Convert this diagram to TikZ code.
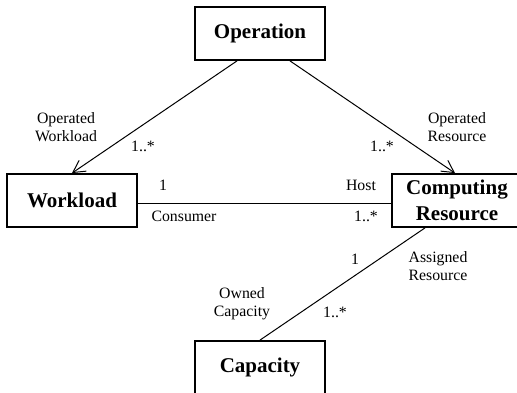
\documentclass[tikz,border=0pt]{standalone}
\usepackage{fontspec}
\setmainfont{Liberation Serif}
\usetikzlibrary{arrows.meta}

\begin{document}
\begin{tikzpicture}[x=1pt,y=-1pt]
      \useasboundingbox (0,0) rectangle (517,393);

      \begin{scope}[every node/.style={draw,line width=1.8pt,minimum width=130pt,minimum height=53pt,
          align=center,inner sep=0pt,font=\fontsize{21}{26}\selectfont\bfseries}]
        \node (op)  at (260,33.5)  {Operation};
        \node (wl)  at (72,200.5)  {Workload};
        \node (cr)  at (457,200.5) {Computing\\Resource};
        \node (cap) at (260,367.5) {Capacity};
      \end{scope}

      \begin{scope}[every edge/.style={draw,line width=1pt},
          >={Straight Barb[length=12pt,width=13pt,line width=1pt]}]
        \path ([xshift=-23pt]op.south) edge[->] (wl.north);
        \path ([xshift=30pt]op.south)  edge[->] ([xshift=-2pt]cr.north);
        \path ([yshift=-2.5pt]wl.east) edge ([yshift=-2.5pt]cr.west);
        \path ([xshift=-32pt]cr.south) edge (cap.north);
      \end{scope}

      \begin{scope}[every node/.style={align=center,inner sep=0pt,font=\fontsize{15.8}{18}\selectfont}]
        \node (n1) at (66,127)  {Operated\\Workload};
        \node (n2) at (143,146) {1..*};
        \node (n3) at (382,146) {1..*};
        \node (n4) at (457,127) {Operated\\Resource};
        \node (n5) at (163,185) {1};
        \node (n6) at (361,185) {Host};
        \node (n7) at (184,216) {Consumer};
        \node (n8) at (366,216) {1..*};
        \node (n9) at (355,259) {1};
        \node (n10) at (438,266) {Assigned\\Resource};
        \node (n11) at (242,304) {Owned\\Capacity};
        \node (n12) at (335,312) {1..*};
      \end{scope}

    \end{tikzpicture}
\end{document}
